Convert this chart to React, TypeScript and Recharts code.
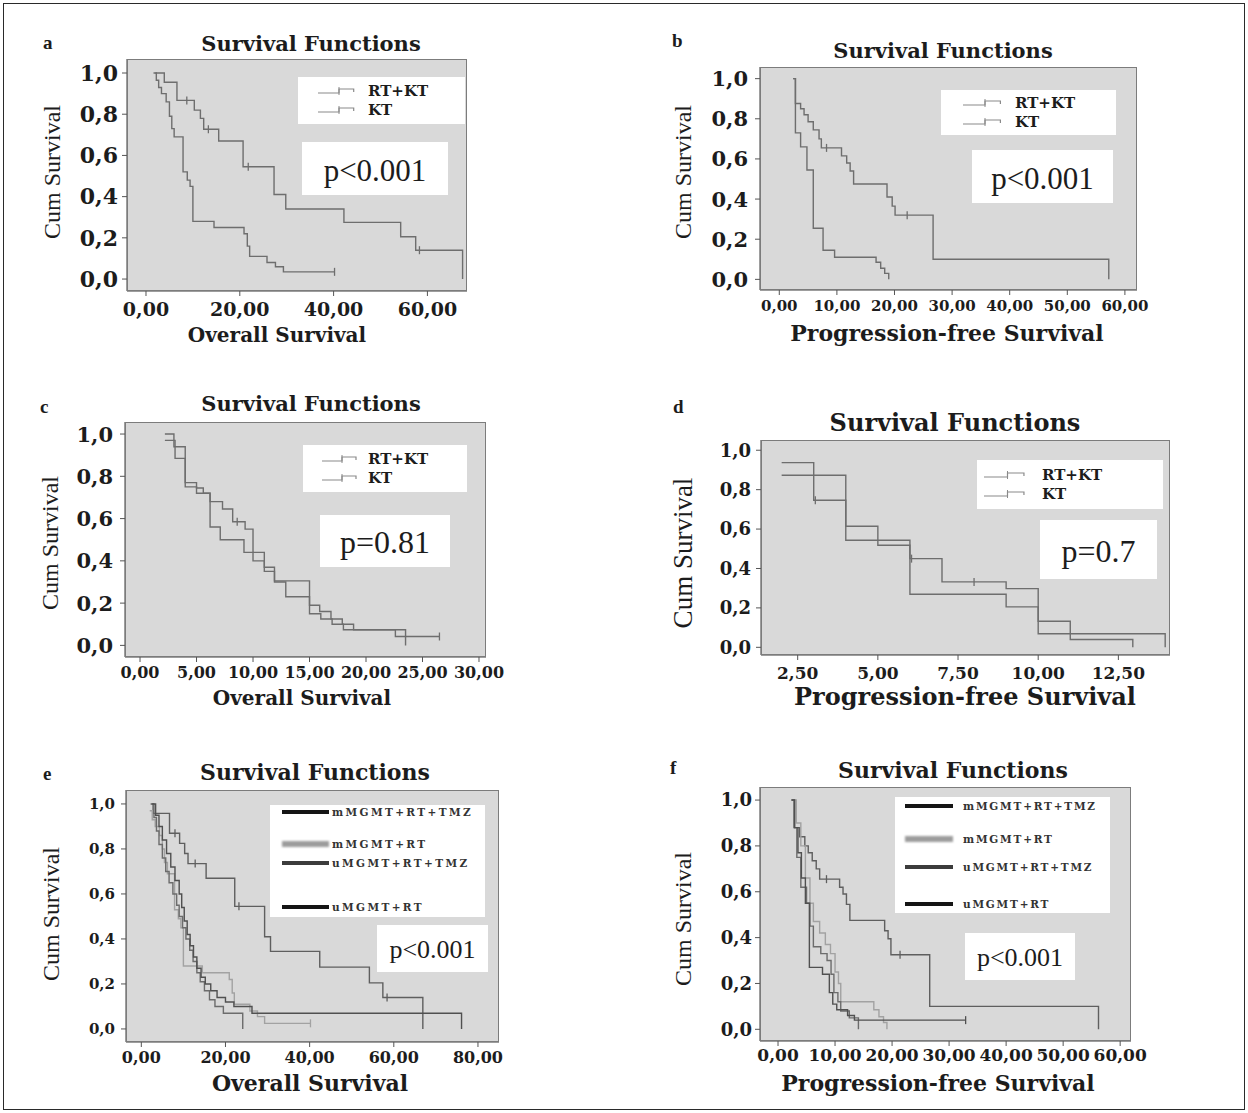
import React from 'react';
import { LineChart, Line, XAxis, YAxis } from 'recharts';

type Pt = { t: number; s: number; c?: boolean };

const yTicks = [0, 0.2, 0.4, 0.6, 0.8, 1.0];
const aTicks = [0, 20, 40, 60];
const bTicks = [0, 10, 20, 30, 40, 50, 60];
const cTicks = [0, 5, 10, 15, 20, 25, 30];
const dTicks = [2.5, 5, 7.5, 10, 12.5];
const eTicks = [0, 20, 40, 60, 80];
const fTicks = [0, 10, 20, 30, 40, 50, 60];

const twoGroups = ['RT+KT', 'KT'];
const mgmtGroups = ['mMGMT+RT+TMZ', 'mMGMT+RT', 'uMGMT+RT+TMZ', 'uMGMT+RT'];

// a: overall survival
const aRtTime = [2.0, 3.9, 6.6, 10.3, 11.6, 12.3, 15.5, 20.7, 27.3, 29.8, 42.2, 54.3, 57.5, 67.5];
const aRtSurv = [1.0, 0.955, 0.867, 0.82, 0.78, 0.727, 0.67, 0.545, 0.41, 0.34, 0.275, 0.205, 0.14, 0];
const aRtCens = [8.7, 13.3, 21.8, 58.3];
const aKtTime = [1.6, 2.2, 2.7, 3.3, 4.3, 5.0, 5.5, 6.0, 7.9, 8.8, 9.4, 10.0, 14.5, 20.9, 21.6, 22.1, 25.8, 27.6, 29.3];
const aKtSurv = [1.0, 0.965, 0.93, 0.9, 0.86, 0.79, 0.73, 0.69, 0.52, 0.48, 0.45, 0.28, 0.25, 0.22, 0.16, 0.11, 0.08, 0.06, 0.035];
const aKtCens = [40.2];

// b: progression-free survival
const bRtTime = [2.4, 2.8, 3.7, 4.3, 5.0, 5.9, 6.9, 7.3, 10.8, 11.7, 12.3, 12.9, 18.7, 19.6, 20.1, 26.7, 57.2];
const bRtSurv = [1.0, 0.876, 0.85, 0.82, 0.785, 0.745, 0.7, 0.655, 0.615, 0.58, 0.54, 0.475, 0.41, 0.365, 0.32, 0.1, 0];
const bRtCens = [8.2, 22.2];
const bKtTime = [2.4, 2.8, 3.7, 4.8, 5.9, 7.6, 9.6, 16.8, 17.6, 18.3, 19.0];
const bKtSurv = [1.0, 0.73, 0.66, 0.545, 0.255, 0.145, 0.11, 0.085, 0.055, 0.03, 0];

// c: overall survival
const cRtTime = [2.2, 3.0, 4.0, 5.0, 5.6, 6.2, 7.3, 8.2, 9.3, 10.0, 11.0, 11.9, 15.0, 15.9, 16.9, 17.9, 18.9, 22.6];
const cRtSurv = [1.0, 0.94, 0.77, 0.745, 0.72, 0.68, 0.645, 0.585, 0.55, 0.44, 0.37, 0.305, 0.19, 0.16, 0.125, 0.1, 0.074, 0.042];
const cRtCens = [8.6, 26.5];
const cKtTime = [2.2, 3.1, 4.0, 5.0, 6.2, 7.1, 9.2, 10.0, 11.0, 11.9, 12.9, 15.0, 16.0, 17.0, 18.0, 23.5];
const cKtSurv = [0.97, 0.885, 0.75, 0.72, 0.56, 0.5, 0.44, 0.4, 0.35, 0.3, 0.23, 0.15, 0.125, 0.1, 0.074, 0];

// d: progression-free survival
const dRtTime = [2.0, 3.0, 4.0, 5.0, 6.0, 7.0, 9.0, 10.0, 11.0, 12.95];
const dRtSurv = [0.937, 0.746, 0.614, 0.518, 0.45, 0.332, 0.298, 0.132, 0.04, 0];
const dRtCens = [3.05, 6.05, 8.0];
const dKtTime = [2.0, 4.0, 6.0, 9.0, 10.0, 13.96];
const dKtSurv = [0.873, 0.543, 0.269, 0.205, 0.069, 0];

// e: overall survival by MGMT
const e1Time = [2.4, 2.8, 6.7, 9.1, 10.3, 11.1, 15.4, 22.2, 29.3, 30.7, 42.4, 54.2, 57.4, 66.9];
const e1Surv = [1.0, 0.958, 0.87, 0.825, 0.78, 0.735, 0.67, 0.545, 0.41, 0.345, 0.275, 0.205, 0.14, 0];
const e1Cens = [8.0, 12.8, 23.2, 58.4];
const e2Time = [2.0, 2.6, 3.3, 4.3, 5.0, 5.5, 6.2, 7.9, 8.8, 9.4, 10.0, 14.5, 20.9, 21.6, 22.1, 25.8, 27.6, 29.3];
const e2Surv = [0.97, 0.93, 0.9, 0.86, 0.8, 0.74, 0.69, 0.53, 0.49, 0.45, 0.28, 0.25, 0.22, 0.16, 0.11, 0.08, 0.055, 0.025];
const e2Cens = [40.2];
const e3Time = [2.2, 3.0, 3.6, 4.2, 5.0, 5.8, 6.6, 7.5, 8.4, 9.0, 9.8, 10.6, 11.5, 12.3, 13.2, 14.0, 15.0, 16.2, 17.5, 19.5, 24.1];
const e3Surv = [1.0, 0.94, 0.88, 0.82, 0.76, 0.7, 0.65, 0.6, 0.55, 0.5, 0.45, 0.4, 0.35, 0.3, 0.25, 0.21, 0.17, 0.13, 0.1, 0.07, 0];
const e4Time = [2.6, 3.4, 4.2, 5.0, 6.0, 7.0, 8.0, 9.0, 9.6, 10.2, 10.9, 11.6, 12.4, 13.2, 14.2, 15.2, 16.5, 18.0, 20.0, 22.0, 26.3, 76.1];
const e4Surv = [1.0, 0.95, 0.9, 0.84, 0.78, 0.72, 0.66, 0.6, 0.54, 0.48, 0.42, 0.37, 0.32, 0.27, 0.23, 0.2, 0.17, 0.14, 0.12, 0.1, 0.07, 0];

// f: progression-free survival by MGMT
const f1Time = [2.5, 2.9, 3.8, 4.7, 5.3, 6.0, 6.7, 7.3, 10.8, 11.4, 12.0, 12.6, 18.7, 19.3, 19.8, 26.6, 56.2];
const f1Surv = [1.0, 0.88, 0.84, 0.8, 0.77, 0.735, 0.7, 0.655, 0.62, 0.59, 0.545, 0.475, 0.43, 0.395, 0.325, 0.1, 0];
const f1Cens = [8.5, 21.4];
const f2Time = [2.5, 3.2, 4.0, 4.8, 5.6, 6.2, 7.3, 8.3, 9.2, 10.0, 10.6, 11.0, 16.8, 17.7, 18.5, 19.1];
const f2Surv = [1.0, 0.9, 0.8, 0.66, 0.55, 0.47, 0.42, 0.37, 0.33, 0.25, 0.2, 0.12, 0.085, 0.055, 0.03, 0];
const f3Time = [2.3, 2.8, 3.3, 4.0, 5.0, 5.6, 6.2, 7.5, 8.6, 9.3, 9.8, 10.5, 11.0, 12.5, 14.1];
const f3Surv = [1.0, 0.88, 0.75, 0.62, 0.55, 0.45, 0.36, 0.33, 0.3, 0.24, 0.16, 0.12, 0.08, 0.05, 0];
const f4Time = [2.4, 2.9, 3.5, 4.1, 4.8, 5.5, 7.8, 9.0, 9.6, 10.3, 12.2, 13.4];
const f4Surv = [1.0, 0.88, 0.77, 0.66, 0.55, 0.27, 0.24, 0.16, 0.11, 0.085, 0.06, 0.04];
const f4Cens = [32.9];

// build a KM step series; censor marks sit on the current step level
function km(time: number[], surv: number[], cens: number[] = []): Pt[] {
  const pts: Pt[] = time.map((t, i) => ({ t, s: surv[i] }));
  cens.forEach((tc) => {
    let s = surv[0];
    time.forEach((t, i) => {
      if (t <= tc) s = surv[i];
    });
    pts.push({ t: tc, s, c: true });
  });
  return pts.sort((p, q) => p.t - q.t);
}

const SERIF = '"Liberation Serif", "Times New Roman", serif';
const WIDE = '"DejaVu Serif", serif';
const INK = '#1c1c1c';

type Series = { pts: Pt[]; color: string; width?: number };
type Box = { L: number; T: number; R: number; B: number };

interface PanelCfg {
  box: Box;
  xDomain: [number, number];
  yDomain: [number, number];
  xTicks: number[];
  yFont: number;
  xFont: number;
  yGap: number;
  xGap: number;
  series: Series[];
}

const censorDot = (color: string) => (props: any) => {
  const { cx, cy, payload, index } = props;
  if (!payload || !payload.c || cx == null || cy == null) return <g key={`n${index}`} />;
  return <line key={`c${index}`} x1={cx} x2={cx} y1={cy - 4} y2={cy + 4} stroke={color} strokeWidth={1.3} />;
};

const fmt = (digits: number) => (v: number) => v.toFixed(digits).replace('.', ',');

function Panel({ cfg }: { cfg: PanelCfg }) {
  const { box } = cfg;
  const padL = 90;
  const padR = 40;
  const padB = 40;
  return (
    <>
      <div
        style={{
          position: 'absolute',
          left: box.L,
          top: box.T,
          width: box.R - box.L,
          height: box.B - box.T,
          background: '#d9d9d9',
          border: '1.5px solid #7c7c7c',
          boxSizing: 'border-box',
        }}
      />
      <div style={{ position: 'absolute', left: box.L - padL, top: box.T }}>
        <LineChart
          width={box.R - box.L + padL + padR}
          height={box.B - box.T + padB}
          margin={{ top: 0, right: padR, bottom: 0, left: 0 }}
        >
          <XAxis
            type="number"
            dataKey="t"
            domain={cfg.xDomain}
            ticks={cfg.xTicks}
            interval={0}
            allowDataOverflow
            height={padB}
            tickFormatter={fmt(2)}
            tickSize={5}
            tickMargin={cfg.xGap}
            axisLine={{ stroke: '#7c7c7c', strokeWidth: 1.5 }}
            tickLine={{ stroke: '#555' }}
            tick={{ fontFamily: WIDE, fontWeight: 700, fontSize: cfg.xFont, fill: INK }}
          />
          <YAxis
            type="number"
            domain={cfg.yDomain}
            ticks={yTicks}
            interval={0}
            allowDataOverflow
            width={padL}
            tickFormatter={fmt(1)}
            tickSize={5}
            tickMargin={cfg.yGap}
            axisLine={{ stroke: '#7c7c7c', strokeWidth: 1.5 }}
            tickLine={{ stroke: '#555' }}
            tick={{ fontFamily: WIDE, fontWeight: 700, fontSize: cfg.yFont, fill: INK }}
          />
          {cfg.series.map((s, i) => (
            <Line
              key={i}
              data={s.pts}
              dataKey="s"
              type="stepAfter"
              stroke={s.color}
              strokeWidth={s.width ?? 1.4}
              dot={censorDot(s.color)}
              activeDot={false}
              isAnimationActive={false}
            />
          ))}
        </LineChart>
      </div>
    </>
  );
}

function Txt(p: {
  x: number;
  y: number;
  size: number;
  bold?: boolean;
  family?: string;
  rotate?: boolean;
  start?: boolean;
  spacing?: number;
  color?: string;
  children: React.ReactNode;
}) {
  return (
    <div
      style={{
        position: 'absolute',
        left: p.x,
        top: p.y,
        transform: `translate(${p.start ? '0' : '-50%'}, -50%)${p.rotate ? ' rotate(-90deg)' : ''}`,
        fontSize: p.size,
        fontWeight: p.bold ? 700 : 400,
        fontFamily: p.family ?? SERIF,
        letterSpacing: p.spacing ?? 0,
        whiteSpace: 'nowrap',
        lineHeight: 1,
        color: p.color ?? INK,
      }}
    >
      {p.children}
    </div>
  );
}

function WhiteBox(p: { x: number; y: number; w: number; h: number; children?: React.ReactNode }) {
  return (
    <div style={{ position: 'absolute', left: p.x, top: p.y, width: p.w, height: p.h, background: '#fff' }}>
      {p.children}
    </div>
  );
}

function StepGlyph({ w }: { w: number }) {
  return (
    <svg width={w} height={10} style={{ position: 'absolute', left: 0, top: -5 }}>
      <path d={`M0 7 H${w * 0.5} V3 H${w * 0.85} V6`} fill="none" stroke="#8a8a8a" strokeWidth={1.2} />
      <line x1={w * 0.5} x2={w * 0.5} y1={1} y2={9} stroke="#8a8a8a" strokeWidth={1} />
    </svg>
  );
}

function TwoLegend(p: {
  x: number; y: number; w: number; h: number;
  rows: number[]; sx: number; sw: number; tx: number; font: number;
}) {
  return (
    <WhiteBox x={p.x} y={p.y} w={p.w} h={p.h}>
      {twoGroups.map((g, i) => (
        <React.Fragment key={g}>
          <div style={{ position: 'absolute', left: p.sx, top: p.rows[i], width: p.sw }}>
            <StepGlyph w={p.sw} />
          </div>
          <Txt x={p.tx} y={p.rows[i]} size={p.font} bold family={WIDE} start>
            {g}
          </Txt>
        </React.Fragment>
      ))}
    </WhiteBox>
  );
}

const mgmtSwatch = [
  { c: '#151515', w: 3.5, blur: 0 },
  { c: '#9c9c9c', w: 6, blur: 1 },
  { c: '#3c3c3c', w: 4, blur: 0 },
  { c: '#151515', w: 3.5, blur: 0 },
];

function MgmtLegend(p: {
  x: number; y: number; w: number; h: number;
  rows: number[]; sx: number; sw: number; tx: number; spacing: number;
}) {
  return (
    <WhiteBox x={p.x} y={p.y} w={p.w} h={p.h}>
      {mgmtGroups.map((g, i) => (
        <React.Fragment key={g}>
          <div
            style={{
              position: 'absolute',
              left: p.sx,
              top: p.rows[i] - mgmtSwatch[i].w / 2,
              width: p.sw,
              height: mgmtSwatch[i].w,
              background: mgmtSwatch[i].c,
              filter: mgmtSwatch[i].blur ? 'blur(1px)' : undefined,
            }}
          />
          <Txt x={p.tx} y={p.rows[i]} size={10.5} bold family={WIDE} start spacing={p.spacing} color="#333">
            {g}
          </Txt>
        </React.Fragment>
      ))}
    </WhiteBox>
  );
}

function PBox(p: { x: number; y: number; w: number; h: number; text: string; size: number }) {
  return (
    <WhiteBox x={p.x} y={p.y} w={p.w} h={p.h}>
      <Txt x={p.w / 2} y={p.h / 2 + 1} size={p.size}>
        {p.text}
      </Txt>
    </WhiteBox>
  );
}

const grey = '#6e6e6e';

const panelA: PanelCfg = {
  box: { L: 127, T: 59, R: 467, B: 291 },
  xDomain: [-4.05, 68.44],
  yDomain: [-0.058, 1.068],
  xTicks: aTicks,
  yFont: 22,
  xFont: 19,
  yGap: 4,
  xGap: 7,
  series: [
    { pts: km(aRtTime, aRtSurv, aRtCens), color: grey },
    { pts: km(aKtTime, aKtSurv, aKtCens), color: grey },
  ],
};

const panelB: PanelCfg = {
  box: { L: 760, T: 67, R: 1137, B: 290 },
  xDomain: [-3.35, 62.1],
  yDomain: [-0.053, 1.058],
  xTicks: bTicks,
  yFont: 21,
  xFont: 15,
  yGap: 7,
  xGap: 5,
  series: [
    { pts: km(bRtTime, bRtSurv, bRtCens), color: grey },
    { pts: km(bKtTime, bKtSurv), color: grey },
  ],
};

const panelC: PanelCfg = {
  box: { L: 125, T: 422, R: 486, B: 657 },
  xDomain: [-1.33, 30.62],
  yDomain: [-0.055, 1.057],
  xTicks: cTicks,
  yFont: 21,
  xFont: 16,
  yGap: 7,
  xGap: 5,
  series: [
    { pts: km(cRtTime, cRtSurv, cRtCens), color: grey },
    { pts: km(cKtTime, cKtSurv), color: grey },
  ],
};

const panelD: PanelCfg = {
  box: { L: 761, T: 440, R: 1170, B: 655 },
  xDomain: [1.356, 14.11],
  yDomain: [-0.039, 1.052],
  xTicks: dTicks,
  yFont: 18,
  xFont: 17,
  yGap: 5,
  xGap: 7,
  series: [
    { pts: km(dRtTime, dRtSurv, dRtCens), color: grey },
    { pts: km(dKtTime, dKtSurv), color: grey },
  ],
};

const panelE: PanelCfg = {
  box: { L: 126, T: 790, R: 499, B: 1042 },
  xDomain: [-3.64, 85.0],
  yDomain: [-0.058, 1.062],
  xTicks: eTicks,
  yFont: 15,
  xFont: 16,
  yGap: 6,
  xGap: 5,
  series: [
    { pts: km(e1Time, e1Surv, e1Cens), color: '#5f5f5f' },
    { pts: km(e2Time, e2Surv, e2Cens), color: '#a2a2a2' },
    { pts: km(e3Time, e3Surv), color: '#6c6c6c' },
    { pts: km(e4Time, e4Surv), color: '#505050' },
  ],
};

const panelF: PanelCfg = {
  box: { L: 760, T: 787, R: 1131, B: 1041 },
  xDomain: [-3.16, 61.9],
  yDomain: [-0.051, 1.057],
  xTicks: fTicks,
  yFont: 18,
  xFont: 17,
  yGap: 3,
  xGap: 3,
  series: [
    { pts: km(f1Time, f1Surv, f1Cens), color: '#5f5f5f' },
    { pts: km(f2Time, f2Surv), color: '#a2a2a2' },
    { pts: km(f3Time, f3Surv), color: '#6c6c6c' },
    { pts: km(f4Time, f4Surv, f4Cens), color: '#505050' },
  ],
};

export default function App() {
  return (
    <div
      style={{
        position: 'absolute',
        left: 0,
        top: 0,
        width: 1248,
        height: 1113,
        background: '#fff',
        overflow: 'hidden',
      }}
    >
      <div
        style={{
          position: 'absolute',
          left: 3,
          top: 3,
          width: 1242,
          height: 1107,
          border: '1.5px solid #2a2a2a',
          boxSizing: 'border-box',
        }}
      />

      {/* a */}
      <Panel cfg={panelA} />
      <Txt x={43} y={42} size={19} bold start>a</Txt>
      <Txt x={311} y={43} size={21} bold family={WIDE}>Survival Functions</Txt>
      <Txt x={52} y={172} size={24} rotate>Cum Survival</Txt>
      <Txt x={277} y={335} size={20} bold family={WIDE}>Overall Survival</Txt>
      <TwoLegend x={298} y={77} w={167} h={47} rows={[14, 33]} sx={20} sw={42} tx={70} font={15} />
      <PBox x={302} y={142} w={146} h={53} text="p<0.001" size={31} />

      {/* b */}
      <Panel cfg={panelB} />
      <Txt x={672} y={40} size={19} bold start>b</Txt>
      <Txt x={943} y={50} size={21} bold family={WIDE}>Survival Functions</Txt>
      <Txt x={683} y={172} size={24} rotate>Cum Survival</Txt>
      <Txt x={947} y={333} size={22} bold family={WIDE}>Progression-free Survival</Txt>
      <TwoLegend x={941} y={90} w={175} h={45} rows={[13, 32]} sx={22} sw={44} tx={74} font={15} />
      <PBox x={972} y={150} w={141} h={53} text="p<0.001" size={31} />

      {/* c */}
      <Panel cfg={panelC} />
      <Txt x={40} y={406} size={19} bold start>c</Txt>
      <Txt x={311} y={403} size={21} bold family={WIDE}>Survival Functions</Txt>
      <Txt x={50} y={543} size={24} rotate>Cum Survival</Txt>
      <Txt x={302} y={698} size={20} bold family={WIDE}>Overall Survival</Txt>
      <TwoLegend x={303} y={445} w={164} h={47} rows={[14, 33]} sx={19} sw={40} tx={65} font={15} />
      <PBox x={320} y={515} w={130} h={52} text="p=0.81" size={32} />

      {/* d */}
      <Panel cfg={panelD} />
      <Txt x={673} y={406} size={19} bold start>d</Txt>
      <Txt x={955} y={423} size={24} bold family={WIDE}>Survival Functions</Txt>
      <Txt x={683} y={553} size={27} rotate>Cum Survival</Txt>
      <Txt x={965} y={697} size={24} bold family={WIDE}>Progression-free Survival</Txt>
      <TwoLegend x={977} y={460} w={186} h={49} rows={[15, 34]} sx={7} sw={47} tx={65} font={15} />
      <PBox x={1040} y={520} w={117} h={59} text="p=0.7" size={32} />

      {/* e */}
      <Panel cfg={panelE} />
      <Txt x={43} y={773} size={19} bold start>e</Txt>
      <Txt x={315} y={772} size={22} bold family={WIDE}>Survival Functions</Txt>
      <Txt x={51} y={914} size={24} rotate>Cum Survival</Txt>
      <Txt x={310} y={1083} size={22} bold family={WIDE}>Overall Survival</Txt>
      <MgmtLegend x={270} y={805} w={215} h={112} rows={[7, 39, 58, 102]} sx={12} sw={47} tx={62} spacing={2.4} />
      <PBox x={377} y={925} w={111} h={47} text="p<0.001" size={26} />

      {/* f */}
      <Panel cfg={panelF} />
      <Txt x={670} y={767} size={19} bold start>f</Txt>
      <Txt x={953} y={770} size={22} bold family={WIDE}>Survival Functions</Txt>
      <Txt x={683} y={919} size={24} rotate>Cum Survival</Txt>
      <Txt x={938} y={1083} size={22} bold family={WIDE}>Progression-free Survival</Txt>
      <MgmtLegend x={895} y={797} w={215} h={116} rows={[9, 42, 70, 107]} sx={10} sw={48} tx={68} spacing={1.8} />
      <PBox x={965} y={933} w={110} h={47} text="p<0.001" size={26} />
    </div>
  );
}
